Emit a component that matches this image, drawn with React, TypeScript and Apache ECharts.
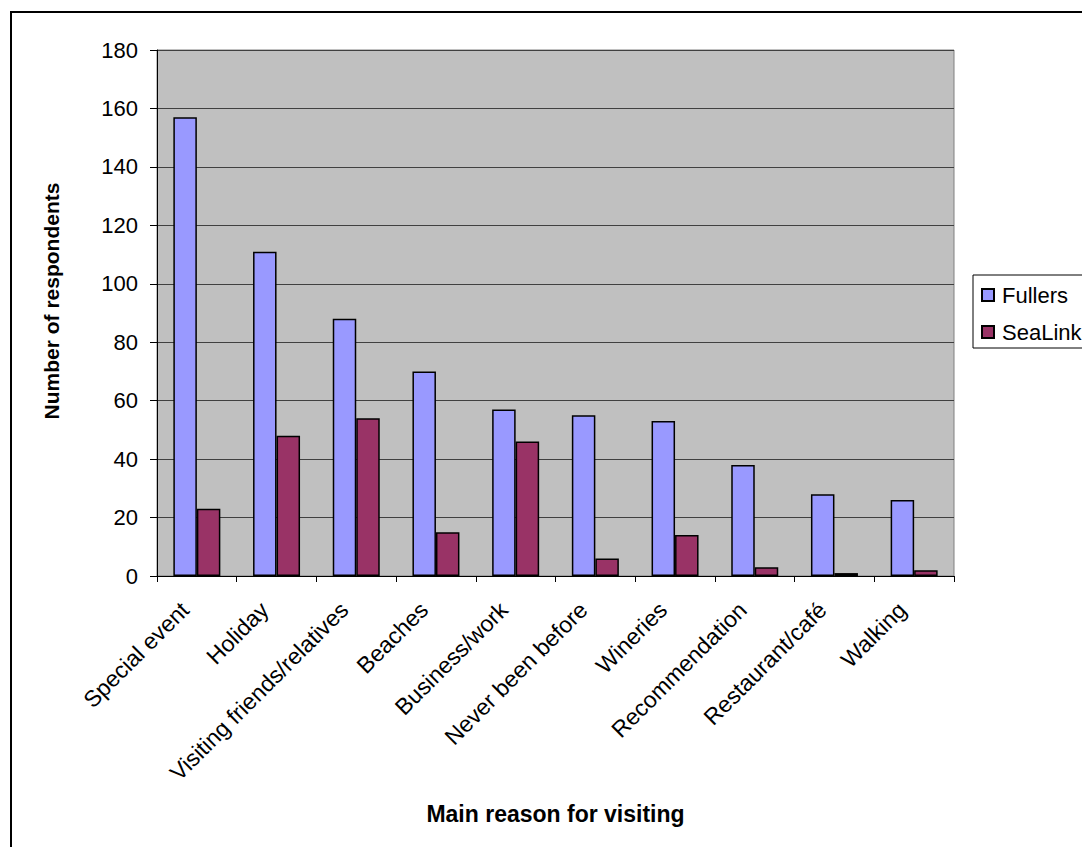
import React, { useEffect, useRef } from "react";
import * as echarts from "echarts";

const categories = [
  "Special event",
  "Holiday",
  "Visiting friends/relatives",
  "Beaches",
  "Business/work",
  "Never been before",
  "Wineries",
  "Recommendation",
  "Restaurant/café",
  "Walking",
];
const fullers = [157, 111, 88, 70, 57, 55, 53, 38, 28, 26];
const sealink = [23, 48, 54, 15, 46, 6, 14, 3, 1, 2];
const seriesNames = ["Fullers", "SeaLink"];
const yTicks = { min: 0, max: 180, interval: 20 };

const FONT = "Arial, 'Liberation Sans', sans-serif";

export default function App() {
  const ref = useRef<HTMLDivElement>(null);
  useEffect(() => {
    if (!ref.current) return;
    const chart = echarts.init(ref.current, null, { renderer: "svg" });
    chart.setOption({
      animation: false,
      backgroundColor: "#ffffff",
      textStyle: { fontFamily: FONT },
      graphic: [
        {
          type: "rect",
          shape: { x: 11, y: 12, width: 1200, height: 1000 },
          style: { fill: "none", stroke: "#000", lineWidth: 2 },
          silent: true,
          z: -10,
        },
      ],
      legend: {
        left: 973,
        top: 275,
        orient: "vertical",
        backgroundColor: "#fff",
        borderColor: "#000",
        borderWidth: 1,
        borderRadius: 0,
        padding: [9, 30, 5, 8],
        itemGap: 15,
        itemWidth: 12,
        itemHeight: 12,
        icon: "rect",
        textStyle: { fontSize: 22, color: "#000", fontFamily: FONT, padding: [0, 0, 0, 3] },
        data: seriesNames,
      },
      grid: { left: 157, top: 50, right: 128, bottom: 271, show: true, backgroundColor: "#C0C0C0", borderColor: "#808080", borderWidth: 1 },
      xAxis: {
        type: "category",
        data: categories,
        axisLine: { lineStyle: { color: "#000", width: 1 } },
        axisTick: { show: true, alignWithLabel: false, length: 6, lineStyle: { color: "#000" } },
        axisLabel: { rotate: 45, fontSize: 23, color: "#000", margin: 18, padding: [0, 17, 0, 0], fontFamily: FONT, interval: 0 },
        name: "Main reason for visiting",
        nameLocation: "middle",
        nameGap: 226,
        nameTextStyle: { fontSize: 23, fontWeight: "bold", color: "#000", fontFamily: FONT },
      },
      yAxis: {
        type: "value",
        min: yTicks.min,
        max: yTicks.max,
        interval: yTicks.interval,
        axisLine: { show: true, lineStyle: { color: "#000", width: 1 } },
        axisTick: { show: true, length: 7, lineStyle: { color: "#000" } },
        axisLabel: { fontSize: 22, color: "#000", margin: 19, fontFamily: FONT },
        splitLine: { lineStyle: { color: "#404040", width: 1 } },
        name: "Number of respondents",
        nameLocation: "middle",
        nameGap: 95,
        nameTextStyle: { fontSize: 21, fontWeight: "bold", color: "#000", fontFamily: FONT, padding: [0, 0, 0, 24] },
      },
      series: [
        {
          name: seriesNames[0],
          type: "bar",
          data: fullers,
          barWidth: 23.5,
          barGap: "0%",
          itemStyle: { color: "#9999FF", borderColor: "#000", borderWidth: 1.5 },
        },
        {
          name: seriesNames[1],
          type: "bar",
          data: sealink,
          barWidth: 23.5,
          barGap: "0%",
          itemStyle: { color: "#993366", borderColor: "#000", borderWidth: 1.5 },
        },
      ],
    });
    return () => chart.dispose();
  }, []);
  return (
    <div
      ref={ref}
      style={{ position: "fixed", left: 0, top: 0, width: 1082, height: 847 }}
    />
  );
}
